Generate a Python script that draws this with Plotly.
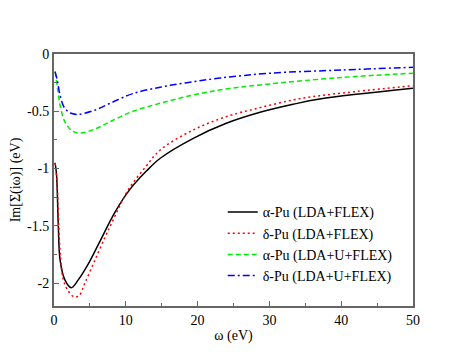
import plotly.graph_objects as go

# alpha-Pu (LDA+FLEX)
w_a_flex = [0.15, 0.35, 0.6, 0.85, 1.5, 2.4, 3.4, 4.8, 6.2, 8.5, 10.6, 12.9, 14.8, 19.4, 24, 28.7, 33.3, 37, 50]
s_a_flex = [-0.95, -1.05, -1.5, -1.8, -1.97, -2.04, -1.97, -1.83, -1.66, -1.38, -1.18, -1.02, -0.91, -0.736, -0.605, -0.509, -0.439, -0.393, -0.30]

# delta-Pu (LDA+FLEX)
w_d_flex = [0.15, 0.4, 0.84, 1.3, 2.0, 2.8, 3.5, 4.3, 5.7, 7.1, 8.0, 10.3, 12.7, 14.8, 19.4, 24, 28.7, 33.3, 37, 50]
s_d_flex = [-0.95, -1.1, -1.71, -1.97, -2.07, -2.12, -2.11, -2.0, -1.80, -1.6, -1.48, -1.19, -0.99, -0.838, -0.663, -0.547, -0.468, -0.401, -0.364, -0.277]

# alpha-Pu (LDA+U+FLEX)
w_a_u = [0.15, 0.5, 0.84, 1.5, 2.5, 3.6, 5.7, 8.0, 11, 14.8, 19.4, 24, 28.7, 40, 50]
s_a_u = [-0.154, -0.30, -0.445, -0.59, -0.67, -0.69, -0.655, -0.585, -0.50, -0.43, -0.358, -0.305, -0.27, -0.205, -0.168]

# delta-Pu (LDA+U+FLEX)
w_d_u = [0.15, 0.5, 0.84, 1.5, 2.5, 3.4, 5.7, 8.0, 11, 14.8, 18.5, 23.1, 30, 40, 50]
s_d_u = [-0.154, -0.24, -0.36, -0.474, -0.52, -0.527, -0.49, -0.425, -0.345, -0.29, -0.25, -0.21, -0.168, -0.14, -0.116]

y_ticks = [0, -0.5, -1, -1.5, -2]
y_labels = ["0", "-0.5", "-1", "-1.5", "-2"]

serif = "Liberation Serif"
grey = "#666666"

fig = go.Figure()
fig.add_trace(go.Scatter(x=w_a_flex, y=s_a_flex, mode="lines", name="α-Pu (LDA+FLEX)",
                         line=dict(color="black", width=1.5, shape="spline", smoothing=1)))
fig.add_trace(go.Scatter(x=w_d_flex, y=s_d_flex, mode="lines", name="δ-Pu (LDA+FLEX)",
                         line=dict(color="#ff0000", width=1.5, dash="2px,3px", shape="spline", smoothing=1)))
fig.add_trace(go.Scatter(x=w_a_u, y=s_a_u, mode="lines", name="α-Pu (LDA+U+FLEX)",
                         line=dict(color="#00ee00", width=1.5, dash="5px,3px", shape="spline", smoothing=1)))
fig.add_trace(go.Scatter(x=w_d_u, y=s_d_u, mode="lines", name="δ-Pu (LDA+U+FLEX)",
                         line=dict(color="#0000ff", width=1.5, dash="7px,3px,2px,3px", shape="spline", smoothing=1)))

fig.update_xaxes(range=[0, 50], tick0=0, dtick=10, ticks="inside", ticklen=5, tickwidth=1,
                 tickcolor=grey, minor=dict(dtick=5, ticks="inside", ticklen=3, tickcolor=grey),
                 showline=True, linecolor=grey, linewidth=2, mirror=True,
                 showgrid=False, zeroline=False, automargin=False,
                 title=dict(text="ω (eV)", standoff=3, font=dict(size=14)))
fig.update_yaxes(range=[-2.2, 0], tickvals=y_ticks, ticktext=y_labels, ticks="inside", ticklen=5,
                 tickwidth=1, tickcolor=grey,
                 minor=dict(dtick=0.25, ticks="inside", ticklen=3, tickcolor=grey),
                 showline=True, linecolor=grey, linewidth=2, mirror=True,
                 showgrid=False, zeroline=False, automargin=False,
                 title=dict(text="Im[Σ(iω)] (eV)", standoff=6, font=dict(size=14)))

# the page adds an 8px body margin, so the figure is shifted by 8px
fig.update_layout(width=466, height=360,
                  margin=dict(l=46, r=61, t=46, b=62),
                  paper_bgcolor="white", plot_bgcolor="white",
                  font=dict(family=serif, size=14, color="black"),
                  legend=dict(x=0.47, y=0.435, xanchor="left", yanchor="top",
                              bgcolor="rgba(0,0,0,0)", font=dict(size=14),
                              tracegroupgap=0, itemwidth=30))
fig.write_html("out.html")
